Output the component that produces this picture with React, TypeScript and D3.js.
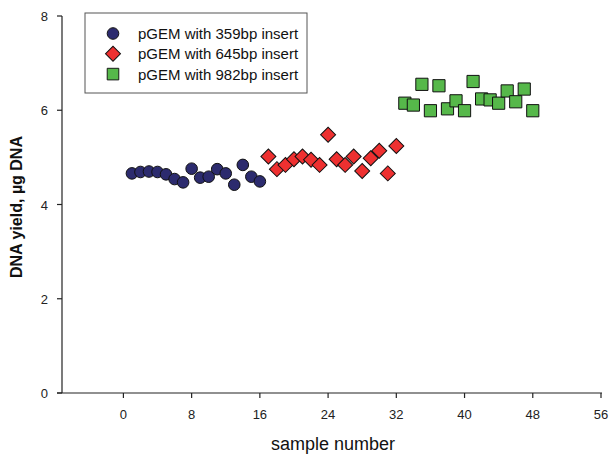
import React from "react";
import * as d3 from "d3";

const samples359 = [1, 2, 3, 4, 5, 6, 7, 8, 9, 10, 11, 12, 13, 14, 15, 16];
const yield359 = [4.66, 4.69, 4.7, 4.69, 4.64, 4.54, 4.47, 4.76, 4.57, 4.59, 4.75, 4.66, 4.42, 4.84, 4.59, 4.49];
const samples645 = [17, 18, 19, 20, 21, 22, 23, 24, 25, 26, 27, 28, 29, 30, 31, 32];
const yield645 = [5.02, 4.75, 4.84, 4.96, 5.02, 4.95, 4.84, 5.48, 4.96, 4.84, 5.02, 4.71, 4.98, 5.14, 4.66, 5.24];
const samples982 = [33, 34, 35, 36, 37, 38, 39, 40, 41, 42, 43, 44, 45, 46, 47, 48];
const yield982 = [6.15, 6.11, 6.55, 5.99, 6.52, 6.03, 6.2, 5.99, 6.61, 6.24, 6.22, 6.15, 6.41, 6.18, 6.45, 5.99];
const xTicks = [0, 8, 16, 24, 32, 40, 48, 56];
const yTicks = [0, 2, 4, 6, 8];
const legendLabels = ["pGEM with 359bp insert", "pGEM with 645bp insert", "pGEM with 982bp insert"];

const W = 611;
const H = 454;
const FONT = "'Liberation Sans', Arial, Helvetica, sans-serif";

export default function App() {
  const x = d3.scaleLinear().domain([-7.2, 56]).range([62, 601]);
  const y = d3.scaleLinear().domain([0, 8]).range([393, 16]);

  const circleSym = d3.symbol().type(d3.symbolCircle).size(Math.PI * 5.8 * 5.8);
  const diamondSym = d3.symbol().type(d3.symbolSquare).size(10.6 * 10.6);
  const squareSym = d3.symbol().type(d3.symbolSquare).size(12.2 * 12.2);

  const blue = "#2c2b6e";
  const red = "#ee3030";
  const green = "#56b84a";

  const series = [
    { xs: samples359, ys: yield359, path: circleSym() as string, fill: blue, rot: 0 },
    { xs: samples645, ys: yield645, path: diamondSym() as string, fill: red, rot: 45 },
    { xs: samples982, ys: yield982, path: squareSym() as string, fill: green, rot: 0 },
  ];

  const x0 = x(-7.2);

  return (
    <svg
      width={W}
      height={H}
      style={{ position: "absolute", left: 0, top: 0, background: "#fff" }}
      fontFamily={FONT}
    >
      {/* axes */}
      <line x1={x0 - 5} x2={x(56) + 1} y1={y(0)} y2={y(0)} stroke="#222" strokeWidth={1.2} />
      <line x1={x0} x2={x0} y1={y(0)} y2={y(8)} stroke="#222" strokeWidth={1.2} />
      {xTicks.map((t) => (
        <g key={"xt" + t}>
          <line x1={x(t)} x2={x(t)} y1={y(0)} y2={y(0) + 5} stroke="#222" strokeWidth={1.2} />
          <text x={x(t)} y={y(0) + 26} textAnchor="middle" fontSize={13} fill="#222">
            {t}
          </text>
        </g>
      ))}
      {yTicks.map((t) => (
        <g key={"yt" + t}>
          <line x1={x0 - 5} x2={x0} y1={y(t)} y2={y(t)} stroke="#222" strokeWidth={1.2} />
          <text x={x0 - 14} y={y(t) + 5} textAnchor="end" fontSize={13} fill="#222">
            {t}
          </text>
        </g>
      ))}
      <text x={333} y={450} textAnchor="middle" fontSize={18} fill="#111">
        sample number
      </text>
      <text
        transform={`translate(22, 207) rotate(-90)`}
        textAnchor="middle"
        fontSize={16}
        fontWeight="bold"
        fill="#111"
      >
        DNA yield, µg DNA
      </text>

      {/* data */}
      {series.map((s, si) => (
        <g key={"s" + si}>
          {s.xs.map((v, i) => (
            <path
              key={i}
              d={s.path}
              transform={`translate(${x(v)},${y(s.ys[i])}) rotate(${s.rot})`}
              fill={s.fill}
              stroke="#111"
              strokeWidth={1}
            />
          ))}
        </g>
      ))}

      {/* legend */}
      <rect x={85} y={13} width={222} height={80} fill="#fff" stroke="#555" strokeWidth={1} />
      {series.map((s, i) => (
        <g key={"lg" + i}>
          <path
            d={s.path}
            transform={`translate(113,${33.5 + i * 20.3}) rotate(${s.rot}) scale(${i === 2 ? 0.95 : 1})`}
            fill={s.fill}
            stroke="#111"
            strokeWidth={1}
          />
          <text x={138} y={33.5 + i * 20.3 + 5.5} fontSize={15} fill="#111">
            {legendLabels[i]}
          </text>
        </g>
      ))}
    </svg>
  );
}
